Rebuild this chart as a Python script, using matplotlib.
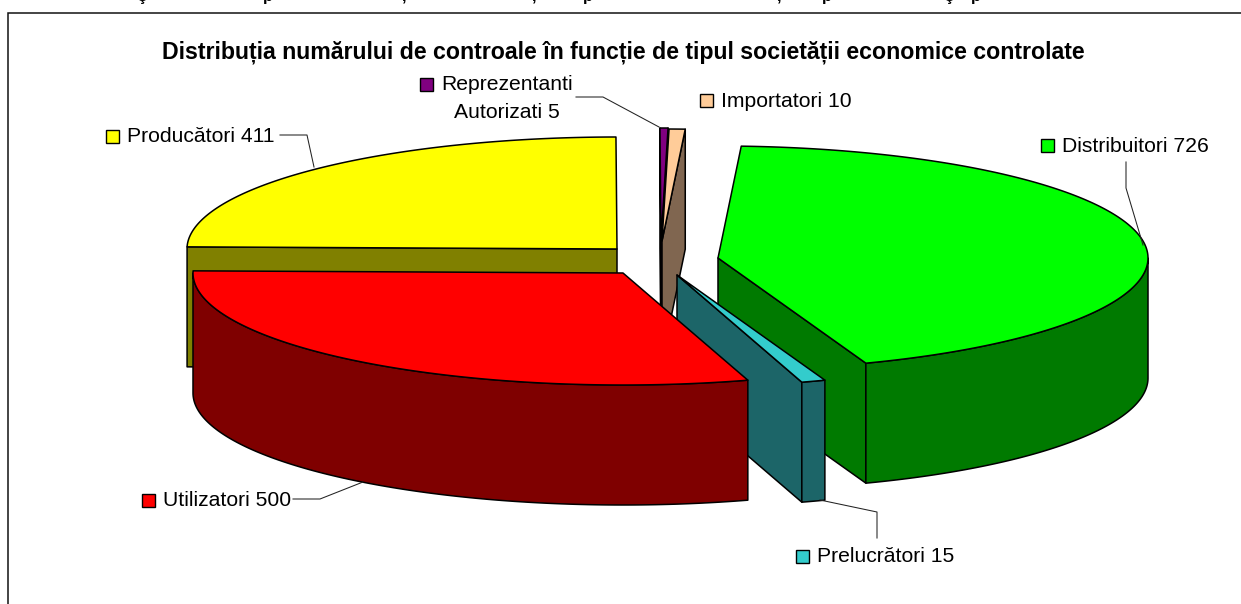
import numpy as np
import matplotlib
matplotlib.use("Agg")
import matplotlib.pyplot as plt
from matplotlib.patches import Polygon, Rectangle

plt.rcParams['font.family'] = ['Liberation Sans', 'DejaVu Sans']

TITLE = "Distribuția numărului de controale în funcție de tipul societății economice controlate"
categories = ["Distribuitori", "Prelucrători", "Utilizatori", "Producători", "Reprezentanti\nAutorizati", "Importatori"]
values = [726, 15, 500, 411, 5, 10]
top_colors = ["#00FF00", "#33CCCC", "#FF0000", "#FFFF00", "#800080", "#FFCC99"]
side_colors = ["#007A00", "#1C6568", "#7F0000", "#808000", "#400040", "#806650"]

# Layout (pixels of the figure)
START_ANGLE = 3.1
RX, RY, DEPTH = 430.0, 112.0, 120.0
apex = [(718, 258), (677, 275), (623, 273), (617, 249), (661, 240), (662, 241)]
draw_order = [3, 0, 4, 5, 1, 2]
label_pos = [  # key left, text centre y
    (1041, 145), (796, 556), (142, 500), (106, 136), (420, 84), (700, 100.5)]
leaders = [
    [(1126, 162), (1126, 188), (1143, 245)],
    [(820, 500), (877, 512), (877, 538)],
    [(293, 499), (320, 499), (363, 482)],
    [(280, 135), (307, 135), (314, 167)],
    [(576, 97), (603, 97), (659, 127)],
]
FONT = 15.2
EDGE = 1.1
TEXT_DY = 1.0

W, H = 1241, 604
fig = plt.figure(figsize=(W / 100, H / 100), dpi=100, facecolor="white")
ax = fig.add_axes([0, 0, 1, 1])
ax.set_xlim(0, W)
ax.set_ylim(H, 0)
ax.axis("off")

# cut-off line of the text above the chart
for ch, x in zip("şp,,p,pşp", [142, 268, 404, 534, 588, 779, 827, 949, 976]):
    ax.text(x, 1, ch, ha="center", va="baseline", fontsize=12, fontweight="bold", color="black")

# chart frame (runs off the right and bottom of the image)
ax.plot([8, 8, W + 5], [H + 5, 12.5, 12.5], color="#111111", lw=1.1, solid_joinstyle="miter")

ax.text(623, 52, TITLE, ha="center", va="center", fontsize=16.7, fontweight="bold", color="black")

edges = START_ANGLE + np.concatenate([[0], np.cumsum(values)]) / sum(values) * 360.0


def pt(c, theta, dz=0.0):
    t = np.radians(theta)
    return (c[0] + RX * np.sin(t), c[1] - RY * np.cos(t) + dz)


def poly(points, color):
    ax.add_patch(Polygon(points, closed=True, facecolor=color, edgecolor="black",
                         lw=EDGE, joinstyle="round"))


for i in draw_order:
    a0, a1 = edges[i], edges[i + 1]
    c = apex[i]
    # cut faces turned toward the viewer
    for phi, normal in ((a0, a0 - 90), (a1, a1 + 90)):
        if np.cos(np.radians(normal)) < 0:
            p = pt(c, phi)
            poly([c, p, (p[0], p[1] + DEPTH), (c[0], c[1] + DEPTH)], side_colors[i])
    # outer rim, front half only
    lo, hi = max(a0, 90), min(a1, 270)
    if lo < hi:
        th = np.linspace(lo, hi, 120)
        upper = [pt(c, t) for t in th]
        lower = [pt(c, t, DEPTH) for t in th[::-1]]
        poly(upper + lower, side_colors[i])
    # top
    th = np.linspace(a0, a1, max(3, int((a1 - a0) * 2)))
    poly([c] + [pt(c, t) for t in th], top_colors[i])

for ln in leaders:
    xs, ys = zip(*ln)
    ax.plot(xs, ys, color="#222222", lw=0.75)

for cat, v, col, (kx, ky) in zip(categories, values, top_colors, label_pos):
    ax.add_patch(Rectangle((kx, ky - 6.5), 13, 13, facecolor=col, edgecolor="black", lw=1.0))
    lines = f"{cat} {v}".split("\n")
    if len(lines) == 1:
        ax.text(kx + 21, ky + TEXT_DY, lines[0], ha="left", va="center", fontsize=FONT, color="black")
    else:
        for n, s in enumerate(lines):
            ax.text(kx + 87, ky + TEXT_DY + 28 * n, s, ha="center", va="center", fontsize=FONT, color="black")

fig.savefig("out.png", dpi=100, facecolor="white")
